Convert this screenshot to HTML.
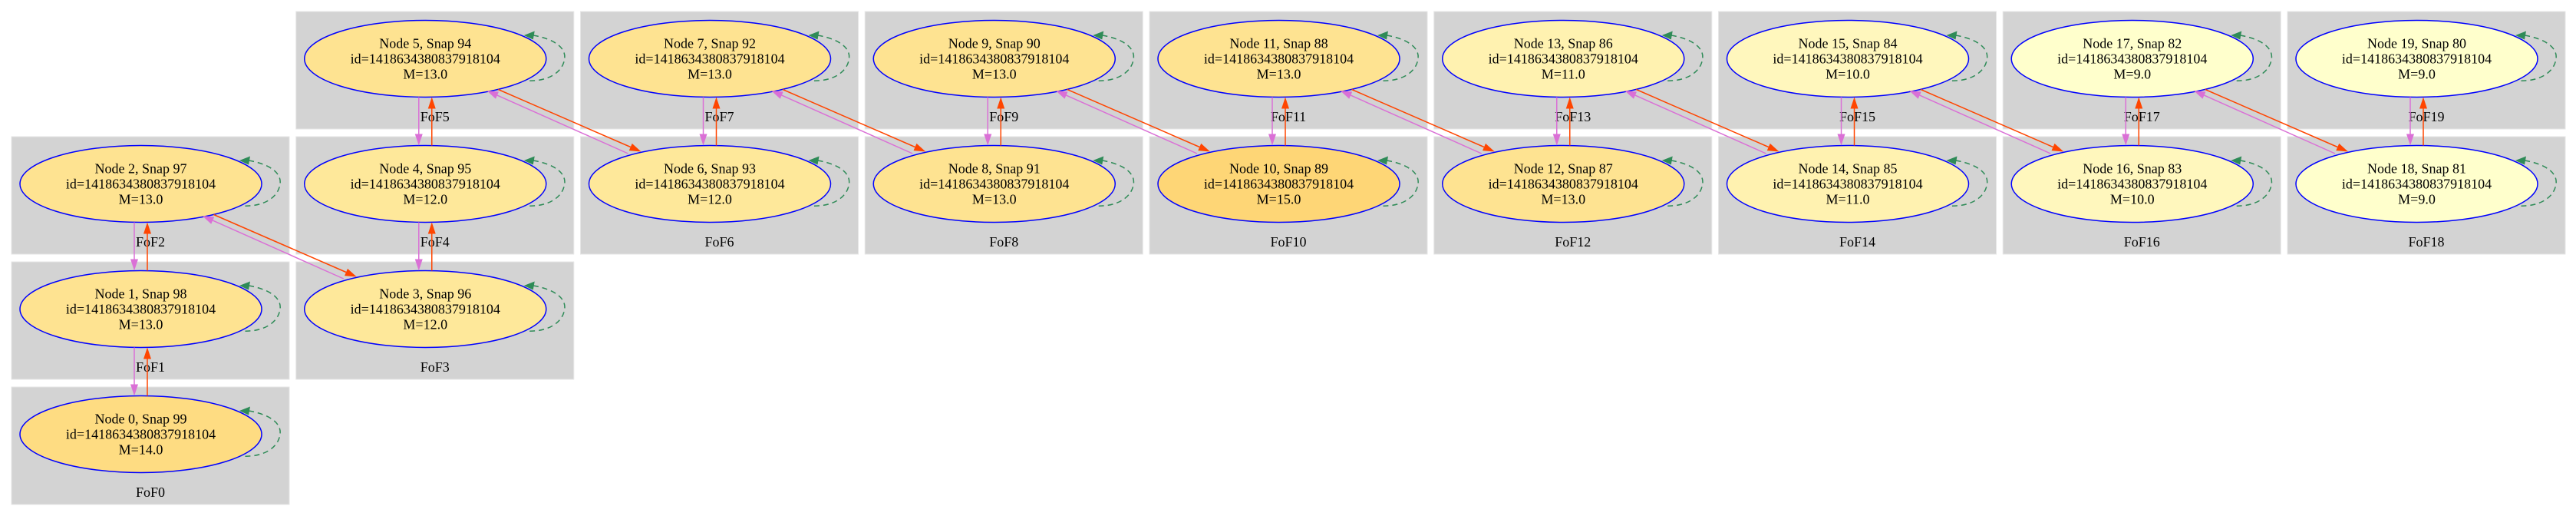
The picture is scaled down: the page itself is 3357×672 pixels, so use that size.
<!DOCTYPE html>
<html><head><meta charset="utf-8"><style>
html,body{margin:0;padding:0;background:#fff;}
svg{display:block;}
text{font-family:"Liberation Serif",serif;font-size:18px;text-anchor:middle;fill:#000;}
</style></head><body>
<svg width="3357" height="672" viewBox="0 0 3357 672" xmlns="http://www.w3.org/2000/svg">
<defs>
<g id="clb"><rect x="0" y="0" width="362" height="153" fill="#d3d3d3" stroke="#e6e6e6" stroke-width="1"/></g>
<g id="loop">
<path d="M309 31 C338 36,352 48,350 61.5 C348 78,330 92,299 90" fill="none" stroke="#2e8b57" stroke-width="1.5" stroke-dasharray="7,5"/>
<polygon points="297,31 311,25.5 309,36.5" fill="#2e8b57"/>
</g>
<g id="vert">
<line x1="160" y1="111.5" x2="160" y2="159.5" stroke="#da70d6" stroke-width="1.5"/>
<polygon points="155,159.5 165,159.5 160,174.5" fill="#da70d6"/>
<line x1="177" y1="174.5" x2="177" y2="126.5" stroke="#ff4500" stroke-width="1.5"/>
<polygon points="172,126.5 182,126.5 177,111.5" fill="#ff4500"/>
</g>
<g id="diag">
<line x1="263.5" y1="101.5" x2="436" y2="176.5" stroke="#ff4500" stroke-width="1.5"/>
<polygon points="449.75,182.5 438,171.9 434,181.1" fill="#ff4500"/>
<line x1="432.75" y1="185" x2="262.2" y2="109.1" stroke="#da70d6" stroke-width="1.5"/>
<polygon points="248.5,103 264.2,104.5 260.2,113.7" fill="#da70d6"/>
</g>
</defs>

<!-- clusters -->
<g transform="translate(15,178)"><use href="#clb"/><text x="181" y="143">FoF2</text></g>
<g transform="translate(15,341)"><use href="#clb"/><text x="181" y="143">FoF1</text></g>
<g transform="translate(15,504)"><use href="#clb"/><text x="181" y="143">FoF0</text></g>
<g transform="translate(385.75,15)"><use href="#clb"/><text x="181" y="143">FoF5</text></g>
<g transform="translate(385.75,178)"><use href="#clb"/><text x="181" y="143">FoF4</text></g>
<g transform="translate(385.75,341)"><use href="#clb"/><text x="181" y="143">FoF3</text></g>
<g transform="translate(756.5,15)"><use href="#clb"/><text x="181" y="143">FoF7</text></g>
<g transform="translate(756.5,178)"><use href="#clb"/><text x="181" y="143">FoF6</text></g>
<g transform="translate(1127.25,15)"><use href="#clb"/><text x="181" y="143">FoF9</text></g>
<g transform="translate(1127.25,178)"><use href="#clb"/><text x="181" y="143">FoF8</text></g>
<g transform="translate(1498,15)"><use href="#clb"/><text x="181" y="143">FoF11</text></g>
<g transform="translate(1498,178)"><use href="#clb"/><text x="181" y="143">FoF10</text></g>
<g transform="translate(1868.75,15)"><use href="#clb"/><text x="181" y="143">FoF13</text></g>
<g transform="translate(1868.75,178)"><use href="#clb"/><text x="181" y="143">FoF12</text></g>
<g transform="translate(2239.5,15)"><use href="#clb"/><text x="181" y="143">FoF15</text></g>
<g transform="translate(2239.5,178)"><use href="#clb"/><text x="181" y="143">FoF14</text></g>
<g transform="translate(2610.25,15)"><use href="#clb"/><text x="181" y="143">FoF17</text></g>
<g transform="translate(2610.25,178)"><use href="#clb"/><text x="181" y="143">FoF16</text></g>
<g transform="translate(2981,15)"><use href="#clb"/><text x="181" y="143">FoF19</text></g>
<g transform="translate(2981,178)"><use href="#clb"/><text x="181" y="143">FoF18</text></g>

<!-- nodes -->
<g transform="translate(15,178)"><ellipse cx="168.5" cy="61.5" rx="157.5" ry="50" fill="#fee391" stroke="#0000ff" stroke-width="1.5"/><text x="168.5" y="47.5">Node 2, Snap 97</text><text x="168.5" y="67.5">id=1418634380837918104</text><text x="168.5" y="87.5">M=13.0</text><use href="#loop"/></g>
<g transform="translate(15,341)"><ellipse cx="168.5" cy="61.5" rx="157.5" ry="50" fill="#fee391" stroke="#0000ff" stroke-width="1.5"/><text x="168.5" y="47.5">Node 1, Snap 98</text><text x="168.5" y="67.5">id=1418634380837918104</text><text x="168.5" y="87.5">M=13.0</text><use href="#loop"/></g>
<g transform="translate(15,504)"><ellipse cx="168.5" cy="61.5" rx="157.5" ry="50" fill="#fedc82" stroke="#0000ff" stroke-width="1.5"/><text x="168.5" y="47.5">Node 0, Snap 99</text><text x="168.5" y="67.5">id=1418634380837918104</text><text x="168.5" y="87.5">M=14.0</text><use href="#loop"/></g>
<g transform="translate(385.75,15)"><ellipse cx="168.5" cy="61.5" rx="157.5" ry="50" fill="#fee391" stroke="#0000ff" stroke-width="1.5"/><text x="168.5" y="47.5">Node 5, Snap 94</text><text x="168.5" y="67.5">id=1418634380837918104</text><text x="168.5" y="87.5">M=13.0</text><use href="#loop"/></g>
<g transform="translate(385.75,178)"><ellipse cx="168.5" cy="61.5" rx="157.5" ry="50" fill="#fee89a" stroke="#0000ff" stroke-width="1.5"/><text x="168.5" y="47.5">Node 4, Snap 95</text><text x="168.5" y="67.5">id=1418634380837918104</text><text x="168.5" y="87.5">M=12.0</text><use href="#loop"/></g>
<g transform="translate(385.75,341)"><ellipse cx="168.5" cy="61.5" rx="157.5" ry="50" fill="#fee89a" stroke="#0000ff" stroke-width="1.5"/><text x="168.5" y="47.5">Node 3, Snap 96</text><text x="168.5" y="67.5">id=1418634380837918104</text><text x="168.5" y="87.5">M=12.0</text><use href="#loop"/></g>
<g transform="translate(756.5,15)"><ellipse cx="168.5" cy="61.5" rx="157.5" ry="50" fill="#fee391" stroke="#0000ff" stroke-width="1.5"/><text x="168.5" y="47.5">Node 7, Snap 92</text><text x="168.5" y="67.5">id=1418634380837918104</text><text x="168.5" y="87.5">M=13.0</text><use href="#loop"/></g>
<g transform="translate(756.5,178)"><ellipse cx="168.5" cy="61.5" rx="157.5" ry="50" fill="#fee89a" stroke="#0000ff" stroke-width="1.5"/><text x="168.5" y="47.5">Node 6, Snap 93</text><text x="168.5" y="67.5">id=1418634380837918104</text><text x="168.5" y="87.5">M=12.0</text><use href="#loop"/></g>
<g transform="translate(1127.25,15)"><ellipse cx="168.5" cy="61.5" rx="157.5" ry="50" fill="#fee391" stroke="#0000ff" stroke-width="1.5"/><text x="168.5" y="47.5">Node 9, Snap 90</text><text x="168.5" y="67.5">id=1418634380837918104</text><text x="168.5" y="87.5">M=13.0</text><use href="#loop"/></g>
<g transform="translate(1127.25,178)"><ellipse cx="168.5" cy="61.5" rx="157.5" ry="50" fill="#fee391" stroke="#0000ff" stroke-width="1.5"/><text x="168.5" y="47.5">Node 8, Snap 91</text><text x="168.5" y="67.5">id=1418634380837918104</text><text x="168.5" y="87.5">M=13.0</text><use href="#loop"/></g>
<g transform="translate(1498,15)"><ellipse cx="168.5" cy="61.5" rx="157.5" ry="50" fill="#fee391" stroke="#0000ff" stroke-width="1.5"/><text x="168.5" y="47.5">Node 11, Snap 88</text><text x="168.5" y="67.5">id=1418634380837918104</text><text x="168.5" y="87.5">M=13.0</text><use href="#loop"/></g>
<g transform="translate(1498,178)"><ellipse cx="168.5" cy="61.5" rx="157.5" ry="50" fill="#fed676" stroke="#0000ff" stroke-width="1.5"/><text x="168.5" y="47.5">Node 10, Snap 89</text><text x="168.5" y="67.5">id=1418634380837918104</text><text x="168.5" y="87.5">M=15.0</text><use href="#loop"/></g>
<g transform="translate(1868.75,15)"><ellipse cx="168.5" cy="61.5" rx="157.5" ry="50" fill="#fff2b0" stroke="#0000ff" stroke-width="1.5"/><text x="168.5" y="47.5">Node 13, Snap 86</text><text x="168.5" y="67.5">id=1418634380837918104</text><text x="168.5" y="87.5">M=11.0</text><use href="#loop"/></g>
<g transform="translate(1868.75,178)"><ellipse cx="168.5" cy="61.5" rx="157.5" ry="50" fill="#fee391" stroke="#0000ff" stroke-width="1.5"/><text x="168.5" y="47.5">Node 12, Snap 87</text><text x="168.5" y="67.5">id=1418634380837918104</text><text x="168.5" y="87.5">M=13.0</text><use href="#loop"/></g>
<g transform="translate(2239.5,15)"><ellipse cx="168.5" cy="61.5" rx="157.5" ry="50" fill="#fff7bd" stroke="#0000ff" stroke-width="1.5"/><text x="168.5" y="47.5">Node 15, Snap 84</text><text x="168.5" y="67.5">id=1418634380837918104</text><text x="168.5" y="87.5">M=10.0</text><use href="#loop"/></g>
<g transform="translate(2239.5,178)"><ellipse cx="168.5" cy="61.5" rx="157.5" ry="50" fill="#fff2b0" stroke="#0000ff" stroke-width="1.5"/><text x="168.5" y="47.5">Node 14, Snap 85</text><text x="168.5" y="67.5">id=1418634380837918104</text><text x="168.5" y="87.5">M=11.0</text><use href="#loop"/></g>
<g transform="translate(2610.25,15)"><ellipse cx="168.5" cy="61.5" rx="157.5" ry="50" fill="#ffffcc" stroke="#0000ff" stroke-width="1.5"/><text x="168.5" y="47.5">Node 17, Snap 82</text><text x="168.5" y="67.5">id=1418634380837918104</text><text x="168.5" y="87.5">M=9.0</text><use href="#loop"/></g>
<g transform="translate(2610.25,178)"><ellipse cx="168.5" cy="61.5" rx="157.5" ry="50" fill="#fff7bd" stroke="#0000ff" stroke-width="1.5"/><text x="168.5" y="47.5">Node 16, Snap 83</text><text x="168.5" y="67.5">id=1418634380837918104</text><text x="168.5" y="87.5">M=10.0</text><use href="#loop"/></g>
<g transform="translate(2981,15)"><ellipse cx="168.5" cy="61.5" rx="157.5" ry="50" fill="#ffffcc" stroke="#0000ff" stroke-width="1.5"/><text x="168.5" y="47.5">Node 19, Snap 80</text><text x="168.5" y="67.5">id=1418634380837918104</text><text x="168.5" y="87.5">M=9.0</text><use href="#loop"/></g>
<g transform="translate(2981,178)"><ellipse cx="168.5" cy="61.5" rx="157.5" ry="50" fill="#ffffcc" stroke="#0000ff" stroke-width="1.5"/><text x="168.5" y="47.5">Node 18, Snap 81</text><text x="168.5" y="67.5">id=1418634380837918104</text><text x="168.5" y="87.5">M=9.0</text><use href="#loop"/></g>

<!-- vertical edges -->
<use href="#vert" x="15" y="178"/>
<use href="#vert" x="15" y="341"/>
<use href="#vert" x="385.75" y="15"/>
<use href="#vert" x="385.75" y="178"/>
<use href="#vert" x="756.5" y="15"/>
<use href="#vert" x="1127.25" y="15"/>
<use href="#vert" x="1498" y="15"/>
<use href="#vert" x="1868.75" y="15"/>
<use href="#vert" x="2239.5" y="15"/>
<use href="#vert" x="2610.25" y="15"/>
<use href="#vert" x="2981" y="15"/>

<!-- diagonal edges -->
<use href="#diag" x="15" y="178"/>
<use href="#diag" x="385.75" y="15"/>
<use href="#diag" x="756.5" y="15"/>
<use href="#diag" x="1127.25" y="15"/>
<use href="#diag" x="1498" y="15"/>
<use href="#diag" x="1868.75" y="15"/>
<use href="#diag" x="2239.5" y="15"/>
<use href="#diag" x="2610.25" y="15"/>
</svg>
</body></html>
